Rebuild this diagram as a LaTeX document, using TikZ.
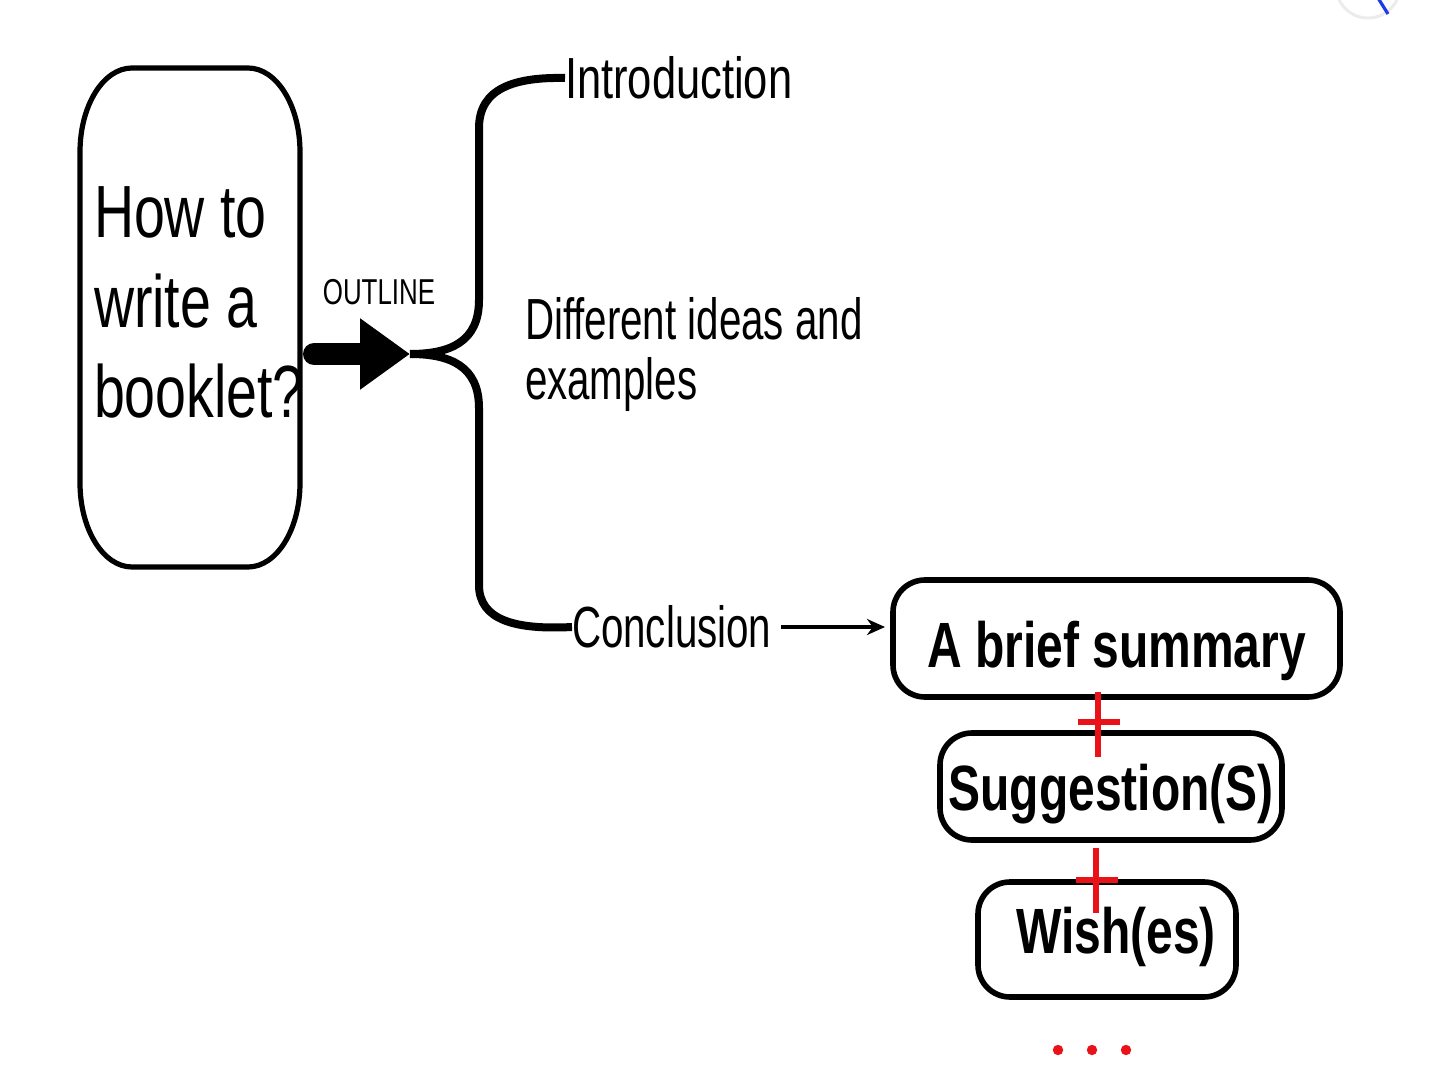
\documentclass[tikz,border=0pt]{standalone}
\usepackage{fontspec}
\setmainfont{Liberation Sans}[FakeStretch=0.72]
\newfontfamily\wideish{Liberation Sans}[FakeStretch=0.75]
\newfontfamily\narrowish{Liberation Sans}[FakeStretch=0.695]
\usetikzlibrary{arrows.meta,calc}
\definecolor{plusred}{RGB}{232,18,24}
\definecolor{iconblue}{RGB}{30,60,230}
\begin{document}
\begin{tikzpicture}[x=0.5pt,y=-0.5pt,
  every node/.style={inner sep=0pt, outer sep=0pt},
  boxline/.style={line width=2.6pt},
  subbox/.style={draw, line width=2.8pt, rounded corners=16pt, font=\wideish\bfseries\fontsize{32}{36}\selectfont},
  bracestroke/.style={line width=4pt},
  plusstroke/.style={plusred, line width=2.6pt},
]
\useasboundingbox (0,0) rectangle (1440,1080);

% faint icon fragment, top right
\begin{scope}
\clip (0,0) rectangle (1440,1080);
\draw[gray!15, line width=1.5pt] (1368,-14) circle (16pt);
\draw[iconblue, line width=1.6pt] (1378,-2) -- (1388,14);
\end{scope}

% question box (elliptical corners)
\node[minimum width=110pt, minimum height=249.5pt] (q) at (190,317.5) {};
\draw[boxline] (80,152) arc[start angle=180, end angle=90, x radius=26pt, y radius=42pt]
  -- (248,68) arc[start angle=90, end angle=0, x radius=26pt, y radius=42pt]
  -- (300,483) arc[start angle=0, end angle=-90, x radius=26pt, y radius=42pt]
  -- (132,567) arc[start angle=-90, end angle=-180, x radius=26pt, y radius=42pt]
  -- cycle;
\node[anchor=north west, align=left, font=\wideish\fontsize{37}{45}\selectfont] (qt) at (94,187) {How to\\write a\\booklet?};

% outline arrow
\coordinate (tip) at (410,354);
\node[font=\fontsize{18}{20}\selectfont] (outl) at (379,292) {OUTLINE};
\draw[line width=11pt, line cap=round, -{Triangle[length=25pt,width=34pt]}]
  ($(q.east|-tip)+(14,0)$) -- (tip);

% three items
\node[font=\wideish\fontsize{29}{30}\selectfont, anchor=west] (intro) at (565,78) {Introduction};
\node[font=\narrowish\fontsize{29}{30}\selectfont, anchor=north west, align=left] (ideas) at (525,297) {Different ideas and\\examples};
\node[font=\narrowish\fontsize{29}{30}\selectfont, anchor=west] (concl) at (572,627) {Conclusion};

% brace
\draw[bracestroke] (tip) .. controls (450,354) and (479,342) .. (479,300)
  -- (479,128) .. controls (479,88) and (515,77) .. (intro.west);
\draw[bracestroke] (tip) .. controls (450,354) and (479,366) .. (479,408)
  -- (479,585) .. controls (479,620) and (515,630) .. (concl.west);

% conclusion parts
\node[subbox, minimum width=223.5pt, minimum height=58.5pt, text height=28.5pt, text depth=0pt] (sum) at (1116.5,638.5) {A brief summary};
\node[subbox, minimum width=171pt, minimum height=53.5pt, text height=23.5pt, text depth=0pt] (sug) at (1111,786.5) {Suggestion(S)};
\node[subbox, minimum width=129pt, minimum height=57.5pt, text height=20pt, text depth=6.5pt] (wish) at (1107,939.5) {\hspace*{9pt}Wish(es)};

\draw[line width=2pt, -{Stealth[length=9pt,width=8pt]}, shorten <=5pt, shorten >=4pt]
  (concl.east) -- (concl.east -| sum.west);

% red plus signs
\coordinate (p1t) at (1098,692); \coordinate (p1b) at (1098,757);
\coordinate (p1l) at (1078,722); \coordinate (p1r) at (1120,722);
\draw[plusstroke] (p1t) -- (p1b);
\draw[plusstroke] (p1l) -- (p1r);
\coordinate (p2t) at (1096,848); \coordinate (p2b) at (1096,913);
\coordinate (p2l) at (1076,880); \coordinate (p2r) at (1118,880);
\draw[plusstroke] (p2t) -- (p2b);
\draw[plusstroke] (p2l) -- (p2r);

% dots
\fill[plusred] (1058,1050) circle (2.6pt);
\fill[plusred] (1092,1050) circle (2.6pt);
\fill[plusred] (1126,1050) circle (2.6pt);
\end{tikzpicture}
\end{document}
